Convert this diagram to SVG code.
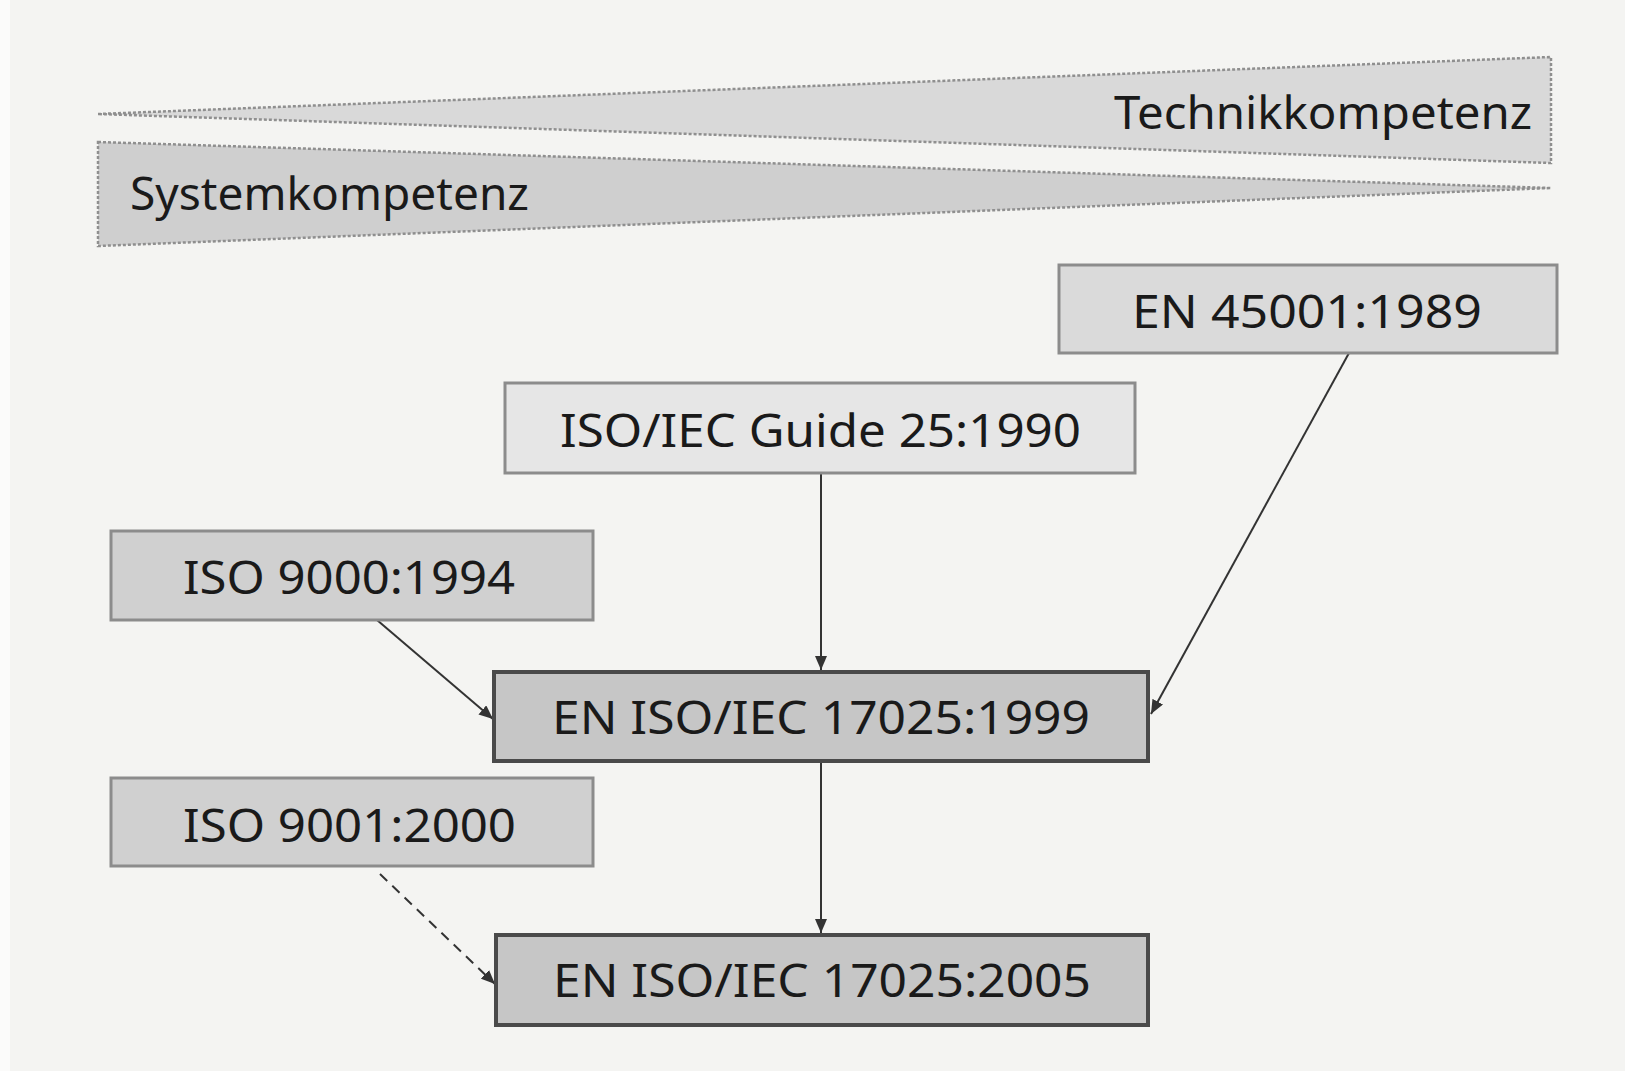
<svg xmlns="http://www.w3.org/2000/svg" width="1625" height="1071" viewBox="0 0 1625 1071">
<style>
.lbl{font-family:"Noto Sans","Liberation Sans",sans-serif;font-size:46px;fill:#1a1a1a}
.box{stroke:#8c8c8c;stroke-width:3}
.boxd{stroke:#4a4a4a;stroke-width:4}
.wedge{stroke:#8f8f8f;stroke-width:2.5;stroke-dasharray:3 2}
.edge{stroke:#333;stroke-width:2;fill:none}
</style>
<defs>
<marker id="ah" viewBox="0 0 14 12" refX="14" refY="6" markerWidth="14" markerHeight="12" markerUnits="userSpaceOnUse" orient="auto">
<path d="M0,0 L14,6 L0,12 Z" fill="#333"/>
</marker>
</defs>
<rect width="1625" height="1071" fill="#f4f4f2"/>
<rect x="0" y="0" width="10" height="1071" fill="#fbfbfa"/>
<g id="wedge-technik">
<polygon class="wedge" points="98,114 1551,57 1551,163" fill="#d9d9d9"/>
<text class="lbl" x="1114" y="129" textLength="418" lengthAdjust="spacingAndGlyphs">Technikkompetenz</text>
</g>
<g id="wedge-system">
<polygon class="wedge" points="98,142 1551,188 98,246" fill="#cfcfcf"/>
<text class="lbl" x="130" y="210" textLength="399" lengthAdjust="spacingAndGlyphs">Systemkompetenz</text>
</g>
<g id="connectors">
<line class="edge" x1="821" y1="473" x2="821" y2="670" marker-end="url(#ah)"/>
<line class="edge" x1="377" y1="620" x2="493" y2="719" marker-end="url(#ah)"/>
<line class="edge" x1="1349" y1="353" x2="1151" y2="714" marker-end="url(#ah)"/>
<line class="edge" x1="821" y1="761" x2="821" y2="933" marker-end="url(#ah)"/>
<line class="edge" x1="380" y1="874" x2="495" y2="984" stroke-dasharray="10 7" marker-end="url(#ah)"/>
</g>
<g id="en45001">
<rect class="box" x="1059" y="265" width="498" height="88" fill="#dadada"/>
<text class="lbl" x="1132" y="328" textLength="350" lengthAdjust="spacingAndGlyphs">EN 45001:1989</text>
</g>
<g id="guide25">
<rect class="box" x="505" y="383" width="630" height="90" fill="#e6e6e6" stroke="#aaa"/>
<text class="lbl" x="560" y="447" textLength="521" lengthAdjust="spacingAndGlyphs">ISO/IEC Guide 25:1990</text>
</g>
<g id="iso9000">
<rect class="box" x="111" y="531" width="482" height="89" fill="#d0d0d0"/>
<text class="lbl" x="183" y="594" textLength="332" lengthAdjust="spacingAndGlyphs">ISO 9000:1994</text>
</g>
<g id="en17025-1999">
<rect class="boxd" x="494" y="672" width="654" height="89" fill="#c6c6c6"/>
<text class="lbl" x="552" y="734" textLength="538" lengthAdjust="spacingAndGlyphs">EN ISO/IEC 17025:1999</text>
</g>
<g id="iso9001">
<rect class="box" x="111" y="778" width="482" height="88" fill="#d0d0d0"/>
<text class="lbl" x="183" y="842" textLength="333" lengthAdjust="spacingAndGlyphs">ISO 9001:2000</text>
</g>
<g id="en17025-2005">
<rect class="boxd" x="496" y="935" width="652" height="90" fill="#c6c6c6"/>
<text class="lbl" x="553" y="997" textLength="538" lengthAdjust="spacingAndGlyphs">EN ISO/IEC 17025:2005</text>
</g>
</svg>
